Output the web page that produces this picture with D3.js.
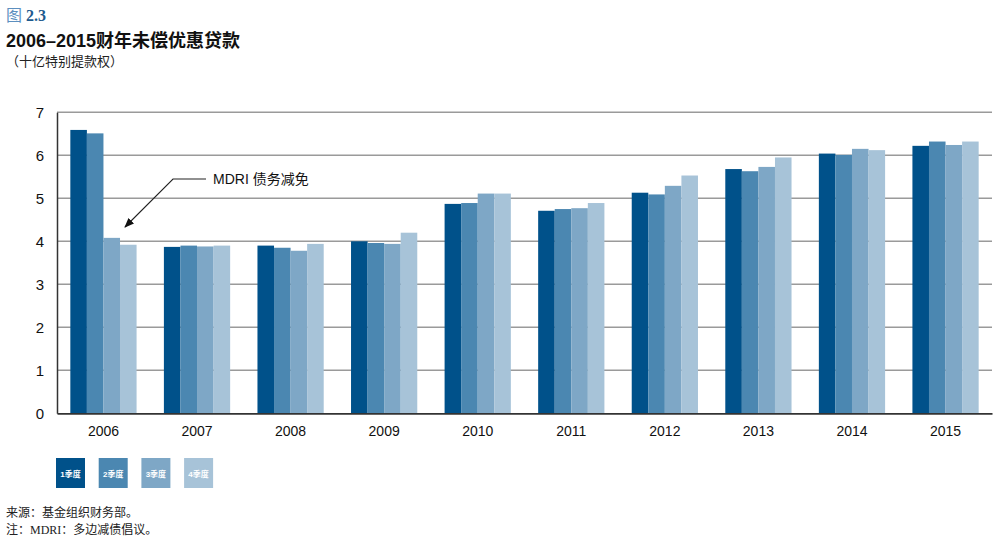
<!DOCTYPE html>
<html>
<head>
<meta charset="utf-8">
<script src="https://cdn.jsdelivr.net/npm/d3@7"></script>
<style>
  body { margin: 0; background: #fff; }
  svg { display: block; font-family: "Liberation Sans", Arial, "Noto Sans CJK SC", sans-serif; }
</style>
</head>
<body>
<svg id="chart" width="1000" height="540"></svg>
<script>
// data (billions of SDR)
var years = ["2006","2007","2008","2009","2010","2011","2012","2013","2014","2015"];
var quarters = ["1季度","2季度","3季度","4季度"];
var q1 = [6.59, 3.87, 3.90, 4.00, 4.87, 4.71, 5.13, 5.68, 6.04, 6.22];
var q2 = [6.51, 3.90, 3.85, 3.96, 4.89, 4.75, 5.09, 5.63, 6.01, 6.32];
var q3 = [4.08, 3.88, 3.78, 3.94, 5.11, 4.77, 5.29, 5.73, 6.15, 6.24];
var q4 = [3.92, 3.90, 3.94, 4.20, 5.11, 4.89, 5.53, 5.95, 6.12, 6.32];
var yTicks = [0, 1, 2, 3, 4, 5, 6, 7];
var colors = ["#00518a", "#4b87b1", "#7ea7c6", "#a7c3d8"];

(function() {
    var svg = d3.select("#chart");
    var series = [q1, q2, q3, q4];

    var x = d3.scaleBand().domain(years).range([57, 992]).paddingInner(0.292).paddingOuter(0.1425);
    var xq = d3.scaleBand().domain(quarters).range([0, x.bandwidth()]);
    var y = d3.scaleLinear().domain([0, 7]).range([413.3, 112.3]);

    // gridlines
    svg.append("g").selectAll("line").data(yTicks.slice(1)).enter().append("line")
        .attr("x1", 57).attr("x2", 992)
        .attr("y1", function(d){ return y(d); }).attr("y2", function(d){ return y(d); })
        .attr("stroke", "#9a9a9a").attr("stroke-width", 1.4);

    // bars
    var groups = svg.append("g").selectAll("g").data(years).enter().append("g")
        .attr("transform", function(d){ return "translate(" + x(d) + ",0)"; });
    groups.selectAll("rect").data(function(d, i){
        return quarters.map(function(q, j){ return {q: q, v: series[j][i], c: colors[j]}; });
    }).enter().append("rect")
        .attr("x", function(d){ return xq(d.q); })
        .attr("width", xq.bandwidth())
        .attr("y", function(d){ return y(d.v); })
        .attr("height", function(d){ return y(0) - y(d.v); })
        .attr("fill", function(d){ return d.c; });

    // axes
    var yAxis = svg.append("g").attr("transform", "translate(57,0)")
        .call(d3.axisLeft(y).tickValues(yTicks).tickSize(0).tickPadding(10).tickFormat(d3.format("d")));
    yAxis.select(".domain").attr("stroke", "#333").attr("stroke-width", 1.5);
    yAxis.selectAll("text").attr("font-size", 15).attr("fill", "#111").attr("text-anchor", "middle").attr("dx", -7);

    var xAxis = svg.append("g").attr("transform", "translate(0," + y(0) + ")")
        .call(d3.axisBottom(x).tickSize(0).tickPadding(13));
    xAxis.select(".domain").attr("stroke", "#333").attr("stroke-width", 1.8);
    xAxis.selectAll("text").attr("font-size", 14).attr("fill", "#111");

    // annotation
    var defs = svg.append("defs");
    defs.append("marker").attr("id", "arr").attr("viewBox", "0 0 10 10").attr("refX", 9).attr("refY", 5)
        .attr("markerWidth", 9).attr("markerHeight", 9).attr("orient", "auto")
        .append("path").attr("d", "M0,1 L10,5 L0,9 Z").attr("fill", "#111");
    svg.append("path").attr("d", "M206,179 L173,179 L125,227")
        .attr("fill", "none").attr("stroke", "#222").attr("stroke-width", 1.1)
        .attr("marker-end", "url(#arr)");
    svg.append("text").attr("x", 213).attr("y", 184).attr("font-size", 14).attr("fill", "#111")
        .text("MDRI 债务减免");

    // legend
    var leg = svg.append("g").selectAll("g").data(quarters).enter().append("g")
        .attr("transform", function(d, i){ return "translate(" + (56 + i * 42.7) + ",458)"; });
    leg.append("rect").attr("width", 29).attr("height", 30)
        .attr("fill", function(d, i){ return colors[i]; });
    leg.append("text").attr("x", 14.5).attr("y", 18.5).attr("text-anchor", "middle")
        .attr("font-size", 8).attr("font-weight", "bold").attr("fill", "#fff").text(function(d){ return d; });

    // titles
    var t = svg.append("text").attr("x", 6).attr("y", 21).attr("font-size", 16)
        .attr("font-family", "'Liberation Serif', 'Noto Sans CJK SC', serif");
    t.append("tspan").attr("fill", "#5c8fbf").text("图 ");
    t.append("tspan").attr("fill", "#1d5a8e").attr("font-weight", "bold").text("2.3");
    svg.append("text").attr("x", 6).attr("y", 47).attr("font-size", 18).attr("font-weight", "bold")
        .attr("fill", "#111").text("2006–2015财年未偿优惠贷款");
    svg.append("text").attr("x", 6).attr("y", 66).attr("font-size", 13).attr("fill", "#222")
        .text("（十亿特别提款权）");

    // notes
    svg.append("text").attr("x", 6).attr("y", 517).attr("font-size", 12).attr("fill", "#222")
        .attr("font-family", "'Liberation Serif', 'Noto Sans CJK SC', serif").text("来源：基金组织财务部。");
    svg.append("text").attr("x", 6).attr("y", 534).attr("font-size", 12).attr("fill", "#222")
        .attr("font-family", "'Liberation Serif', 'Noto Sans CJK SC', serif").text("注：MDRI：多边减债倡议。");
}());
</script>
</body>
</html>
